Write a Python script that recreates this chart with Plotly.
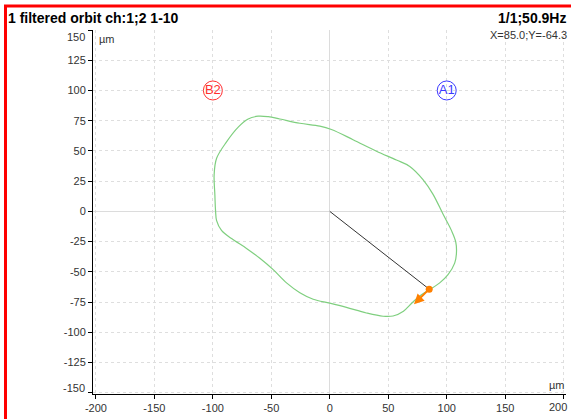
import plotly.graph_objects as go

# orbit points (µm)
orbit_x = [-61.3, -52.7, -42.7, -25.6, -8.5, 1.4, 19.9, 39.9, 57.0, 68.4, 79.7, 88.3, 96.8,
           104.0, 107.7, 108.3, 106.8, 101.1, 94.0, 84.9, 77.5, 70.5, 63.0, 54.1, 45.6,
           31.3, 14.2, 0.0, -14.2, -25.6, -37.0, -48.4, -59.8, -71.2, -84.0, -92.6, -96.8,
           -97.7, -98.3, -98.9, -96.8, -88.3, -78.3, -69.8, -61.3]
orbit_y = [78.7, 78.3, 76.4, 72.9, 70.5, 67.7, 59.3, 49.8, 42.5, 37.2, 26.3, 14.1, -2.2,
           -15.7, -25.2, -34.7, -42.8, -52.3, -59.1, -65.0, -69.5, -75.5, -82.5, -86.5, -86.7,
           -84.0, -79.4, -75.9, -72.6, -67.2, -59.1, -48.2, -38.8, -30.6, -22.5, -15.7, -7.6,
           0.6, 14.1, 30.3, 43.9, 57.5, 69.7, 76.4, 78.7]

cursor_x, cursor_y = 85.0, -64.3
arrow_tip_x, arrow_tip_y = 72.0, -76.7

probe_names = ['B2', 'A1']
probe_x = [-100, 100]
probe_y = [100, 100]
probe_colors = ['#ff3030', '#3a3aff']

x_ticks = [-200, -150, -100, -50, 0, 50, 100, 150, 200]
y_ticks = [-150, -125, -100, -75, -50, -25, 0, 25, 50, 75, 100, 125, 150]

titulo = '1 filtered orbit ch:1;2 1-10'
info_direita = '1/1;50.9Hz'
info_cursor = 'X=%.1f;Y=%.1f' % (cursor_x, cursor_y)

W, H = 571, 419
ML, MR, MT, MB = 93, 5, 30, 18


def px(xp):
    return (xp - ML) / (W - ML - MR)


def py(yp):
    return (H - MB - yp) / (H - MT - MB)


fonte_eixo = dict(size=11, color='#333333', family='Arial')

fig = go.Figure()

fig.add_trace(go.Scatter(x=orbit_x, y=orbit_y, mode='lines', line=dict(color='#7fcf7f', width=1.2, shape='spline'),
                         hoverinfo='skip'))
fig.add_trace(go.Scatter(x=[0, cursor_x], y=[0, cursor_y], mode='lines', line=dict(color='#333333', width=1),
                         hoverinfo='skip'))
fig.add_trace(go.Scatter(x=[cursor_x], y=[cursor_y], mode='markers', marker=dict(color='#ff8000', size=7)))

for nome, xv, yv, cor in zip(probe_names, probe_x, probe_y, probe_colors):
    fig.add_trace(go.Scatter(x=[xv], y=[yv], mode='markers+text', text=[nome], textposition='middle center',
                             textfont=dict(color=cor, size=13, family='Arial'),
                             marker=dict(symbol='circle-open', size=19, color=cor, line=dict(width=1))))

fig.add_annotation(x=arrow_tip_x, y=arrow_tip_y, ax=cursor_x, ay=cursor_y, xref='x', yref='y', axref='x', ayref='y',
                   showarrow=True, arrowhead=2, arrowsize=1, arrowwidth=2, arrowcolor='#ff8000', text='')

fig.add_annotation(x=px(6), y=py(18), xref='paper', yref='paper', xanchor='left', yanchor='middle',
                   text='<b>' + titulo + '</b>', showarrow=False, font=dict(size=14, color='black', family='Arial'))
fig.add_annotation(x=px(568), y=py(18), xref='paper', yref='paper', xanchor='right', yanchor='middle',
                   text='<b>' + info_direita + '</b>', showarrow=False, font=dict(size=14, color='black', family='Arial'))
fig.add_annotation(x=px(569), y=py(35), xref='paper', yref='paper', xanchor='right', yanchor='middle',
                   text=info_cursor, showarrow=False, font=fonte_eixo)
fig.add_annotation(x=px(97), y=py(39), xref='paper', yref='paper', xanchor='left', yanchor='middle',
                   text='µm', showarrow=False, font=fonte_eixo)
fig.add_annotation(x=px(567), y=py(392), xref='paper', yref='paper', xanchor='right', yanchor='middle',
                   text='µm', showarrow=False, font=fonte_eixo)

# rótulos das pontas, empurrados para dentro como no original
fig.add_annotation(x=x_ticks[-1], y=0, xref='x', yref='paper', xanchor='right', yanchor='top', yshift=-5,
                   xshift=5, text=str(x_ticks[-1]), showarrow=False, font=fonte_eixo)
fig.add_annotation(x=px(87), y=py(37), xref='paper', yref='paper', xanchor='right', yanchor='middle',
                   text=str(y_ticks[-1]), showarrow=False, font=fonte_eixo)
fig.add_annotation(x=px(87), y=py(395), xref='paper', yref='paper', xanchor='right', yanchor='middle',
                   text=str(y_ticks[0]), showarrow=False, font=fonte_eixo)

# moldura vermelha
fig.add_shape(type='line', xref='paper', yref='paper', x0=px(5.5), x1=px(5.5), y0=py(5.5), y1=py(430),
              line=dict(color='#ff0000', width=3))
fig.add_shape(type='line', xref='paper', yref='paper', x0=px(4), x1=px(580), y0=py(5.5), y1=py(5.5),
              line=dict(color='#ff0000', width=3))

eixo = dict(ticks='outside', ticklen=4, tickcolor='black', showline=True, linecolor='black', linewidth=1,
            showgrid=True, gridcolor='#dedede', griddash='3px,3px', gridwidth=1, zeroline=True,
            zerolinecolor='#dcdcdc', zerolinewidth=1, tickfont=fonte_eixo, fixedrange=True)
fig.update_xaxes(range=[-202.5, 202], tickvals=x_ticks, ticktext=[str(v) for v in x_ticks[:-1]] + [''], **eixo)
fig.update_yaxes(range=[-151, 150], tickvals=y_ticks, ticktext=[''] + [str(v) for v in y_ticks[1:-1]] + [''],
                 **eixo)

fig.update_layout(width=W, height=H, margin=dict(l=ML, r=MR, t=MT, b=MB), showlegend=False,
                  plot_bgcolor='white', paper_bgcolor='white')

fig.write_html('out.html', config={'displayModeBar': False},
               post_script="document.body.style.margin='0';document.body.style.overflow='hidden';")
